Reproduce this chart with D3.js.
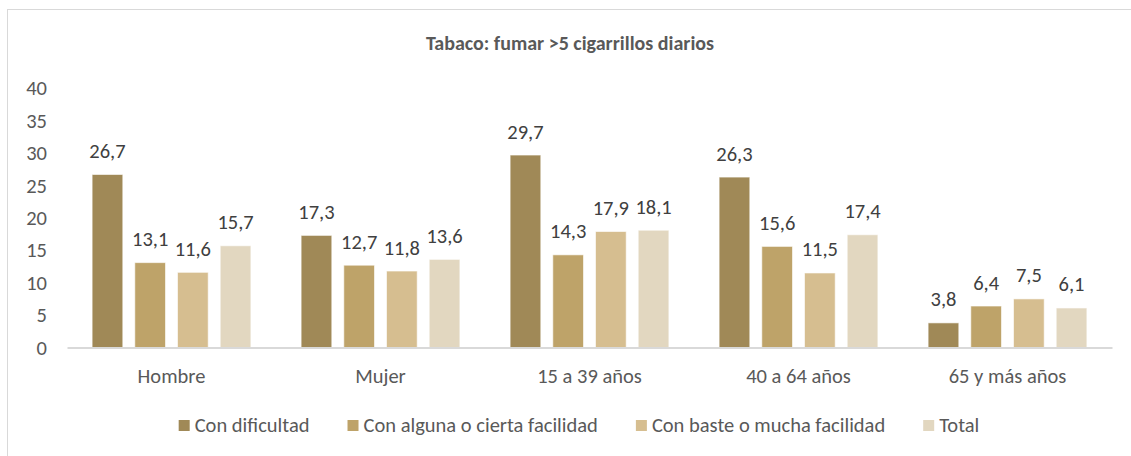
<!DOCTYPE html>
<html>
<head>
<meta charset="utf-8">
<script src="https://cdn.jsdelivr.net/npm/d3@7"></script>
<style>
  html, body { margin: 0; padding: 0; background: #fff; overflow: hidden; }
  svg { display: block; font-family: Calibri, Carlito, Lato, sans-serif; }
</style>
</head>
<body>
<svg id="chart" width="1131" height="456"></svg>
<script>
  const TITLE = "Tabaco: fumar >5 cigarrillos diarios";
  const categories = ["Hombre", "Mujer", "15 a 39 años", "40 a 64 años", "65 y más años"];
  const seriesNames = ["Con dificultad", "Con alguna o cierta facilidad", "Con baste o mucha facilidad", "Total"];
  const conDificultad = [26.7, 17.3, 29.7, 26.3, 3.8];
  const conAlguna = [13.1, 12.7, 14.3, 15.6, 6.4];
  const conBaste = [11.6, 11.8, 17.9, 11.5, 7.5];
  const total = [15.7, 13.6, 18.1, 17.4, 6.1];
  const yTicks = [0, 5, 10, 15, 20, 25, 30, 35, 40];
  const colors = ["#a08957", "#bea369", "#d6be90", "#e2d7c0"];

  const FONT = "Calibri, Carlito, Lato, sans-serif";
  const LABEL_SIZE = 20.5;

  const seriesValues = [conDificultad, conAlguna, conBaste, total];
  const rows = categories.map((c, i) => ({
    cat: c,
    values: seriesNames.map((s, j) => ({ series: s, value: seriesValues[j][i] }))
  }));

  const svg = d3.select("#chart");
  const fmt = (v) => v.toFixed(1).replace(".", ",");

  // chart frame (right/bottom edges fall outside the view)
  svg.append("rect")
    .attr("x", 7.5).attr("y", 9.5)
    .attr("width", 1200).attr("height", 500)
    .attr("fill", "#fff").attr("stroke", "#d9d9d9").attr("stroke-width", 1);

  svg.append("text")
    .attr("x", 570).attr("y", 50)
    .attr("text-anchor", "middle")
    .attr("font-size", 20).attr("font-weight", 700)
    .attr("fill", "#595959")
    .text(TITLE);

  const plot = { left: 67, right: 1112, top: 88.3, bottom: 347.5 };

  const x0 = d3.scaleBand().domain(categories).range([plot.left, plot.right]);
  const x1 = d3.scaleBand().domain(seriesNames).range([0, x0.bandwidth()])
    .paddingInner(0.281).paddingOuter(0.588);
  const y = d3.scaleLinear().domain([0, 40]).range([plot.bottom, plot.top]);
  const color = d3.scaleOrdinal().domain(seriesNames).range(colors);

  // y axis labels
  const yAxis = d3.axisLeft(y).tickValues(yTicks).tickSize(0).tickPadding(0);
  const yg = svg.append("g").attr("transform", "translate(47,0)").call(yAxis);
  yg.select(".domain").remove();
  yg.selectAll("text").attr("font-size", LABEL_SIZE).attr("fill", "#595959")
    .attr("font-family", FONT);

  // groups
  const groups = svg.append("g").selectAll("g")
    .data(rows).enter().append("g")
    .attr("transform", (d) => `translate(${x0(d.cat)},0)`);

  groups.selectAll("rect")
    .data((d) => d.values).enter().append("rect")
    .attr("x", (d) => x1(d.series))
    .attr("y", (d) => y(d.value))
    .attr("width", x1.bandwidth())
    .attr("height", (d) => y(0) - y(d.value))
    .attr("fill", (d) => color(d.series))
    .attr("stroke", "#ffffff").attr("stroke-opacity", 0.6).attr("stroke-width", 1);

  groups.selectAll("text.val")
    .data((d) => d.values).enter().append("text")
    .attr("class", "val")
    .attr("x", (d) => x1(d.series) + x1.bandwidth() / 2)
    .attr("y", (d) => y(d.value) - 16.5)
    .attr("text-anchor", "middle")
    .attr("font-size", LABEL_SIZE).attr("fill", "#404040")
    .text((d) => fmt(d.value));

  // x axis
  const xAxis = d3.axisBottom(x0).tickSize(0).tickPadding(0);
  const xg = svg.append("g").attr("transform", `translate(0,${plot.bottom})`).call(xAxis);
  xg.select(".domain").attr("stroke", "#d9d9d9").attr("stroke-width", 2);
  xg.selectAll("text").attr("font-size", LABEL_SIZE).attr("fill", "#595959")
    .attr("font-family", FONT)
    .attr("dy", null).attr("y", 35);

  // legend
  const legend = svg.append("g");
  const items = legend.selectAll("g").data(seriesNames).enter().append("g");
  items.append("rect")
    .attr("y", 420).attr("width", 11).attr("height", 11)
    .attr("fill", (d) => color(d));
  items.append("text")
    .attr("x", 16).attr("y", 432)
    .attr("font-size", LABEL_SIZE).attr("fill", "#595959")
    .text((d) => d);
  const widths = [];
  items.each(function () {
    widths.push(16 + this.querySelector("text").getComputedTextLength());
  });
  const gap = 38;
  let cursor = 579 - (d3.sum(widths) + gap * (widths.length - 1)) / 2;
  items.attr("transform", (d, i) => {
    const t = `translate(${cursor},0)`;
    cursor += widths[i] + gap;
    return t;
  });
</script>
</body>
</html>
